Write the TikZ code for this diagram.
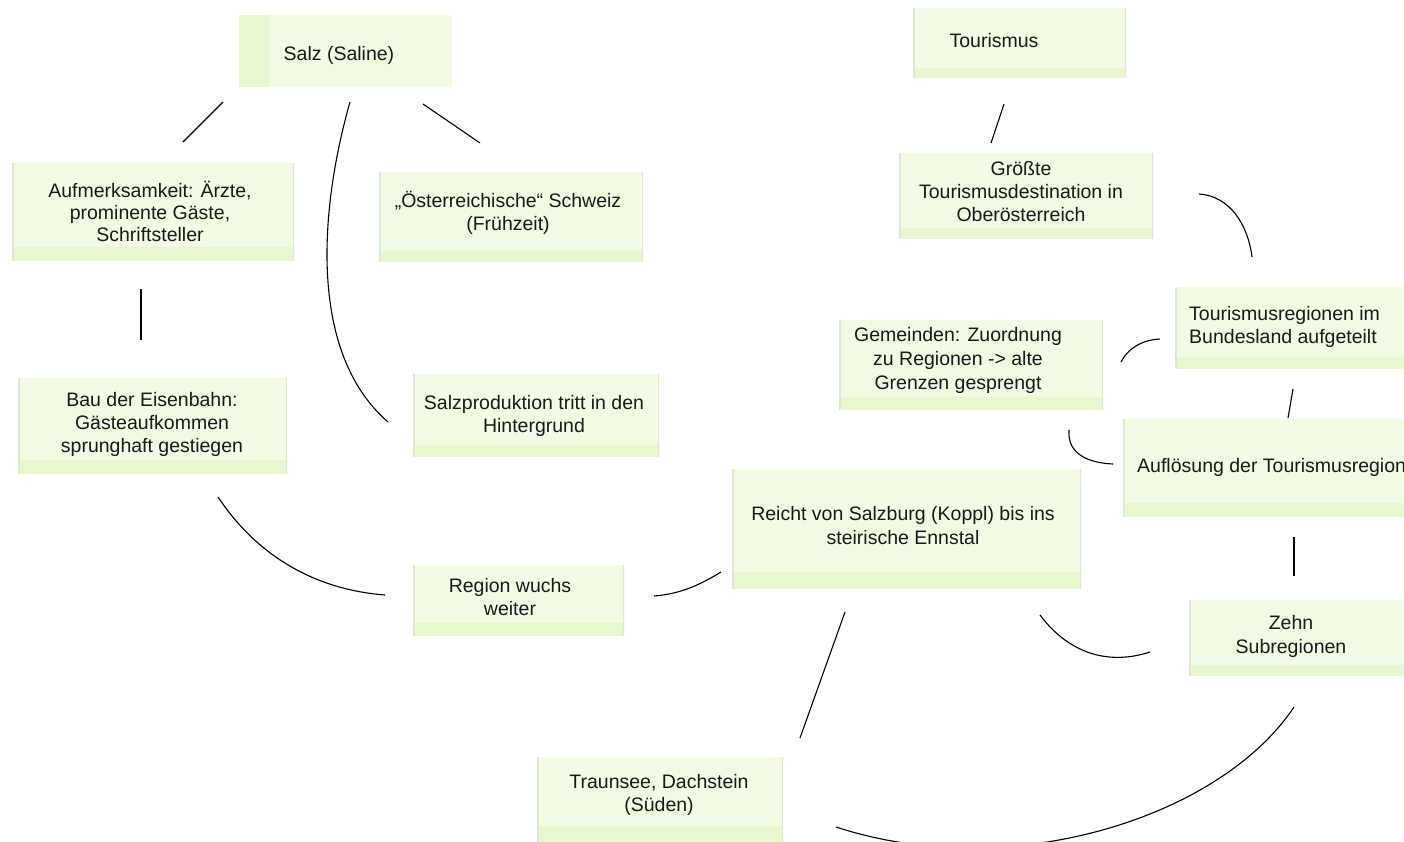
\documentclass[tikz,border=0pt]{standalone}
\usepackage{fontspec}
\setmainfont{Liberation Sans}
\definecolor{boxfill}{HTML}{F3FBE5}
\definecolor{stripc}{HTML}{E8F7D0}
\definecolor{sidec}{HTML}{DFE6D5}
\begin{document}
\begin{tikzpicture}[x=1pt,y=-1pt,
  txt/.style={font=\fontsize{19.5}{23}\selectfont, align=center, inner sep=0pt, text=black!90},
  conn/.style={line width=1.1pt, black},
  boxbase/.style={fill=boxfill, inner sep=0pt, anchor=north west}
]
\useasboundingbox (0,0) rectangle (1404,842);
\clip (0,0) rectangle (1404,842);
\newcommand{\mkbox}[6]{%
  \node[boxbase, minimum width={#4-#2}, minimum height={#5-#3},
    path picture={
      \fill[stripc] ([yshift=#6]path picture bounding box.south west) rectangle (path picture bounding box.south east);
      \draw[sidec, line width=3pt] (path picture bounding box.south west) -- (path picture bounding box.north west);
      \draw[sidec, line width=3pt] (path picture bounding box.south east) -- (path picture bounding box.north east);
    }] (#1) at (#2,#3) {};}
\node[boxbase, minimum width=213, minimum height=72,
  path picture={\fill[stripc] (path picture bounding box.north west) rectangle ([xshift=31]path picture bounding box.south west);}] (salz) at (239,15) {};
\mkbox{tour}{913}{8}{1126}{78}{10}
\mkbox{aufm}{12}{163}{294}{261}{14}
\mkbox{oest}{379}{172}{643}{262}{12}
\mkbox{groe}{899}{153}{1153}{239}{11}
\mkbox{treg}{1175}{287}{1420}{369}{12}
\mkbox{gem}{839}{320}{1103}{410}{13}
\mkbox{bau}{18}{378}{287}{474}{14}
\mkbox{sprod}{413}{374}{659}{457}{12}
\mkbox{aufl}{1123}{419}{1420}{517}{14}
\mkbox{reicht}{732}{469}{1081}{589}{17}
\mkbox{region}{413}{565}{624}{636}{13}
\mkbox{zehn}{1189}{600}{1420}{676}{11}
\mkbox{traun}{537}{757}{783}{862}{36}
% texts
\node[txt] (tsalz) at (339,55) {Salz (Saline)};
\node[txt] (ttour) at (994,41) {Tourismus};
\node[txt, font=\fontsize{19.5}{22}\selectfont] (taufm) at (150,211) {Aufmerksamkeit: Ärzte,\\prominente Gäste,\\Schriftsteller};
\node[txt] (toest) at (508,213) {„Österreichische“ Schweiz\\(Frühzeit)};
\node[txt] (tgroe) at (1021,192) {Größte\\Tourismusdestination in\\Oberösterreich};
\node[txt, align=left, anchor=west] (ttreg) at (1189,327) {Tourismusregionen im\\Bundesland aufgeteilt};
\node[txt, font=\fontsize{19.5}{24}\selectfont] (tgem) at (958,360) {Gemeinden: Zuordnung\\zu Regionen -> alte\\Grenzen gesprengt};
\node[txt] (tbau) at (152,424) {Bau der Eisenbahn:\\Gästeaufkommen\\sprunghaft gestiegen};
\node[txt] (tsprod) at (534,415.5) {Salzproduktion tritt in den\\Hintergrund};
\node[txt, anchor=west] (taufl) at (1137,467) {Auflösung der Tourismusregionen};
\node[txt, font=\fontsize{19.5}{24}\selectfont] (treicht) at (903,526) {Reicht von Salzburg (Koppl) bis ins\\steirische Ennstal};
\node[txt] (tregion) at (510,597.5) {Region wuchs\\weiter};
\node[txt, font=\fontsize{19.5}{24}\selectfont] (tzehn) at (1291,636) {Zehn\\Subregionen};
\node[txt] (ttraun) at (659,795) {Traunsee, Dachstein\\(Süden)};
% connector end points
\coordinate (c1a) at (223,102); \coordinate (c1b) at (183,142);
\coordinate (c2a) at (423,104); \coordinate (c2b) at (480,143);
\coordinate (c3a) at (350,102); \coordinate (c3b) at (388,422);
\coordinate (c4a) at (141,289); \coordinate (c4b) at (141,340);
\coordinate (c5a) at (218,497); \coordinate (c5b) at (385,595);
\coordinate (c6a) at (654,596); \coordinate (c6b) at (721,572);
\coordinate (c7a) at (845,612); \coordinate (c7b) at (800,738);
\coordinate (c8a) at (1040,615); \coordinate (c8b) at (1150,652);
\coordinate (c9a) at (1294,707); \coordinate (c9b) at (836,827);
\coordinate (c10a) at (1004,104); \coordinate (c10b) at (991,143);
\coordinate (c11a) at (1199,194); \coordinate (c11b) at (1252,257);
\coordinate (c12a) at (1160,339); \coordinate (c12b) at (1121,362);
\coordinate (c13a) at (1293,389); \coordinate (c13b) at (1288,418);
\coordinate (c14a) at (1069,430); \coordinate (c14b) at (1113,464);
\coordinate (c15a) at (1294,537); \coordinate (c15b) at (1294,576);
% connectors
\draw[conn] (c1a) -- (c1b);
\draw[conn] (c2a) -- (c2b);
\draw[conn] (c3a) .. controls (322,200) and (305,350) .. (c3b);
\draw[conn] (c4a) -- (c4b);
\draw[conn] (c5a) .. controls (260,560) and (320,590) .. (c5b);
\draw[conn] (c6a) .. controls (680,594) and (700,585) .. (c6b);
\draw[conn] (c7a) -- (c7b);
\draw[conn] (c8a) .. controls (1070,655) and (1110,665) .. (c8b);
\draw[conn] (c9a) .. controls (1220,818) and (1010,884) .. (c9b);
\draw[conn] (c10a) -- (c10b);
\draw[conn] (c11a) .. controls (1230,196) and (1248,225) .. (c11b);
\draw[conn] (c12a) .. controls (1140,340) and (1127,350) .. (c12b);
\draw[conn] (c13a) -- (c13b);
\draw[conn] (c14a) .. controls (1067,455) and (1090,463) .. (c14b);
\draw[conn] (c15a) -- (c15b);
\end{tikzpicture}
\end{document}
